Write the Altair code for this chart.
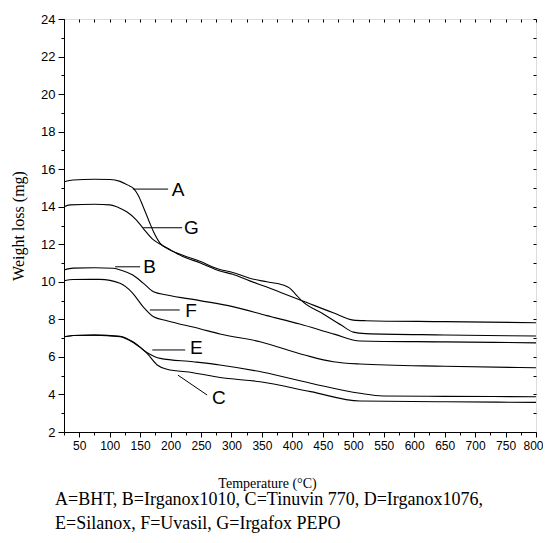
import altair as alt
import pandas as pd

# ---- curve data (Temperature °C, Weight loss mg) ----
A_T = [25, 40, 75, 100, 117, 130, 139, 147, 155, 165, 172, 183, 194, 220, 248, 281, 302, 330, 358, 385, 395, 405, 417, 450, 480, 500, 520, 650, 800]
A_V = [15.33, 15.42, 15.46, 15.45, 15.35, 15.15, 14.98, 14.6, 14.0, 13.2, 12.67, 12.05, 11.78, 11.42, 11.09, 10.66, 10.5, 10.19, 10.0, 9.83, 9.68, 9.35, 8.94, 8.3, 7.7, 7.32, 7.24, 7.17, 7.11]

G_T = [25, 35, 75, 100, 115, 128, 144, 155, 172, 188, 200, 220, 248, 281, 302, 330, 358, 385, 417, 467, 500, 520, 650, 800]
G_V = [14.0, 14.1, 14.13, 14.1, 13.95, 13.73, 13.29, 12.85, 12.23, 11.91, 11.7, 11.35, 11.02, 10.58, 10.4, 10.05, 9.72, 9.38, 8.98, 8.35, 7.96, 7.93, 7.88, 7.82]

B_T = [25, 40, 75, 106, 120, 138, 155, 172, 194, 248, 302, 358, 412, 470, 511, 650, 800]
B_V = [10.63, 10.73, 10.75, 10.72, 10.6, 10.36, 9.93, 9.47, 9.3, 9.0, 8.68, 8.2, 7.75, 7.2, 6.85, 6.8, 6.75]

F_T = [25, 40, 84, 117, 138, 155, 172, 194, 248, 281, 347, 420, 467, 511, 650, 800]
F_V = [10.06, 10.12, 10.13, 9.92, 9.39, 8.67, 8.14, 7.93, 7.5, 7.22, 6.81, 6.1, 5.74, 5.62, 5.5, 5.42]

E_T = [25, 40, 75, 117, 138, 161, 183, 237, 281, 352, 430, 511, 549, 650, 800]
E_V = [7.07, 7.14, 7.16, 7.1, 6.81, 6.24, 5.92, 5.74, 5.57, 5.18, 4.6, 4.06, 3.92, 3.9, 3.88]

C_T = [25, 40, 75, 117, 138, 161, 178, 194, 237, 281, 347, 430, 511, 650, 800]
C_V = [7.07, 7.14, 7.16, 7.08, 6.78, 6.2, 5.57, 5.34, 5.16, 4.9, 4.68, 4.15, 3.65, 3.61, 3.58]

# ---- annotation labels and leader lines (data units) ----
LBL_TEXT = ["A", "G", "B", "F", "E", "C"]
LBL_X = [202, 222, 155, 224, 232, 268]
LBL_Y = [14.9, 12.85, 10.8, 8.45, 6.5, 3.8]
LEAD_X1 = [138, 155, 109, 166, 170, 212]
LEAD_X2 = [196, 219, 150, 215, 224, 260]
LEAD_Y1 = [14.94, 12.88, 10.8, 8.5, 6.37, 5.03]
LEAD_Y2 = [14.94, 12.88, 10.8, 8.5, 6.37, 3.97]

X_TICKS = list(range(25, 801, 25))
Y_TICKS = list(range(2, 25))

CAPTION = ["A=BHT, B=Irganox1010, C=Tinuvin 770, D=Irganox1076,",
           "E=Silanox, F=Uvasil, G=Irgafox PEPO"]

series = {"A": (A_T, A_V), "G": (G_T, G_V), "B": (B_T, B_V),
          "F": (F_T, F_V), "E": (E_T, E_V), "C": (C_T, C_V)}
rows = []
for name, (ts, vs) in series.items():
    for t, v in zip(ts, vs):
        rows.append({"s": name, "T": t, "W": v})
df = pd.DataFrame(rows)

lbl_df = pd.DataFrame({"t": LBL_TEXT, "x": LBL_X, "y": LBL_Y})
lead_df = pd.DataFrame({"x": LEAD_X1, "x2": LEAD_X2, "y": LEAD_Y1, "y2": LEAD_Y2})

xscale = alt.Scale(domain=[25, 800], nice=False, zero=False)
yscale = alt.Scale(domain=[2, 24], nice=False, zero=False)

x_axis = alt.Axis(
    values=X_TICKS,
    labelExpr="datum.value % 50 === 0 ? datum.label : ''",
    tickSize={"condition": {"test": "datum.value % 50 === 0", "value": 5}, "value": 3},
    labelOffset={"condition": {"test": "datum.value === 800", "value": -3}, "value": 0},
    labelFont="Liberation Sans", labelFontSize=12, labelColor="black",
    labelOverlap=False, labelFlush=False, labelPadding=3, grid=False,
    domainColor="black", tickColor="black",
    title="Temperature (°C)", titleFont="Liberation Serif", titleFontSize=14,
    titleFontWeight="normal", titleColor="black", titlePadding=25,
    titleX=203,
)
y_axis = alt.Axis(
    values=Y_TICKS,
    labelExpr="datum.value % 2 === 0 ? datum.label : ''",
    tickSize={"condition": {"test": "datum.value % 2 === 0", "value": 6}, "value": 3},
    labelFont="Liberation Sans", labelFontSize=13, labelColor="black",
    labelOverlap=False, labelFlush=False, labelPadding=3, grid=False,
    domainColor="black", tickColor="black",
    title="Weight loss (mg)", titleFont="Liberation Serif", titleFontSize=16,
    titleFontWeight="normal", titleColor="black", titlePadding=14,
)

lines = alt.Chart(df).mark_line(color="black", strokeWidth=1.1, interpolate="monotone").encode(
    x=alt.X("T:Q", scale=xscale, axis=x_axis),
    y=alt.Y("W:Q", scale=yscale, axis=y_axis),
    detail="s:N",
)

mirror = alt.Chart(df).mark_point(opacity=0).encode(
    x=alt.X("T:Q", scale=xscale, axis=alt.Axis(orient="top", values=X_TICKS, labels=False, domain=False,
                                                 tickSize=3, offset=-3, tickColor="black", title=None, grid=False)),
    y=alt.Y("W:Q", scale=yscale, axis=alt.Axis(orient="right", values=Y_TICKS, labels=False, domain=False,
                                                 tickSize=3, offset=-3, tickColor="black", title=None, grid=False)),
)

leads = alt.Chart(lead_df).mark_rule(color="black", strokeWidth=1).encode(
    x=alt.X("x:Q", axis=None), x2="x2:Q",
    y=alt.Y("y:Q", axis=None), y2="y2:Q",
)

labels = alt.Chart(lbl_df).mark_text(align="left", baseline="middle", font="Liberation Sans",
                                     fontSize=19, color="black").encode(
    x=alt.X("x:Q", axis=None), y=alt.Y("y:Q", axis=None), text="t:N"
)

chart = alt.layer(lines, mirror, leads, labels).resolve_axis(
    x="independent", y="independent"
).properties(
    width=472, height=413,
    autosize=alt.AutoSizeParams(type="none"),
    padding={"left": 56, "top": 11, "right": 7, "bottom": 103},
    title=alt.TitleParams(text=CAPTION, orient="bottom", anchor="start", frame="group",
                          font="Liberation Serif", fontSize=18, fontWeight="normal", color="black",
                          lineHeight=24, dx=-9, offset=1),
).configure_view(stroke="black", strokeWidth=1).configure(background="white")

chart.save("out.html", embed_options={"renderer": "svg", "actions": False})
